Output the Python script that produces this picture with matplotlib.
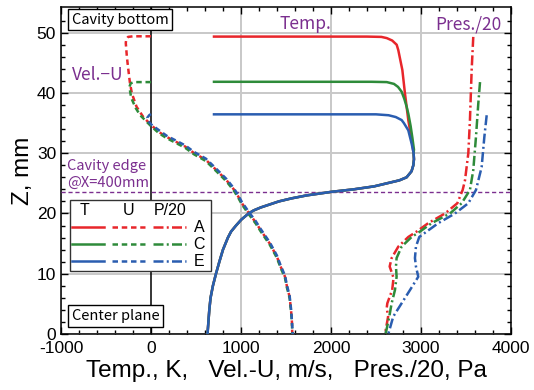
import numpy as np
import matplotlib
matplotlib.use("Agg")
import matplotlib.pyplot as plt
from matplotlib.patches import Rectangle

plt.rcParams['font.family'] = ['Liberation Sans', 'DejaVu Sans']
plt.rcParams['axes.unicode_minus'] = False

# ---- data (value, Z in mm) ----
cases = ['A', 'C', 'E']
colors = {'A': '#e8262b', 'C': '#2e8b3a', 'E': '#2a5db0'}

# temperature, K
t_z_low = [0, 2, 4, 6, 8, 10, 12, 14, 16, 17, 18, 19, 20, 20.5, 21, 21.5, 22,
           22.5, 23, 23.6, 24, 24.5, 25, 25.5, 26, 27, 28, 29, 30]
t_v_low = [628, 638, 648, 662, 688, 722, 760, 800, 855, 890, 945, 1005, 1085,
           1140, 1220, 1320, 1420, 1560, 1730, 2010, 2250, 2480, 2620, 2760,
           2840, 2895, 2915, 2922, 2918]
t_z_up = {
    'A': [32.2, 35.5, 39.9, 43.8, 47.1, 48.0, 48.7, 49.1, 49.3, 49.35, 49.35],
    'C': [30.6, 32.5, 34.5, 36.5, 37.7, 39.0, 40.2, 41.0, 41.5, 41.8, 41.85, 41.85],
    'E': [31.6, 33.8, 35.0, 35.5, 36.0, 36.3, 36.45, 36.45],
}
t_v_up = {
    'A': [2896, 2859, 2822, 2793, 2748, 2730, 2680, 2620, 2560, 2400, 700],
    'C': [2922, 2905, 2885, 2860, 2841, 2815, 2785, 2745, 2700, 2620, 2450, 700],
    'E': [2896, 2859, 2810, 2785, 2720, 2640, 2500, 700],
}

# velocity U, m/s
u_z = {
    'A': [49.4, 49.4, 49.3, 48.9, 48.3, 46.0, 44.3, 41.8, 39.9, 37.7, 36.0, 34.7,
          33.5, 32.7, 31.1, 30.0, 28.9, 27.0, 25.5, 24.0, 22.8, 21.7, 20.0,
          18.5, 17.2, 15.0, 12.8, 11.2, 9.5, 7.8, 6.2, 4.0, 2.0, 0.0],
    'C': [41.8, 41.8, 41.6, 41.0, 39.2, 37.5, 36.3, 34.5, 33.3, 32.5, 30.9,
          29.8, 28.7, 26.8, 25.3, 23.8, 22.6, 21.5, 19.8, 18.3, 17.0, 14.8,
          12.6, 11.0, 9.3, 7.6, 6.0, 3.8, 1.8, 0.0],
    'E': [36.5, 36.3, 35.9, 35.3, 34.8, 33.8, 32.9, 31.3, 30.2, 29.1, 27.2,
          25.7, 24.2, 23.0, 21.9, 20.2, 18.7, 17.4, 15.2, 13.0, 11.4, 9.7,
          8.0, 6.4, 4.2, 2.2, 0.0],
}
u_v = {
    'A': [0, -200, -255, -275, -280, -268, -255, -235, -212, -160, -85, 0,
          90, 174, 380, 480, 610, 740, 840, 920, 970, 1010, 1090, 1165, 1220,
          1320, 1400, 1440, 1489, 1512, 1540, 1556, 1566, 1570],
    'C': [0, -190, -225, -240, -220, -170, -120, 0, 90, 174, 380, 480, 610,
          740, 840, 920, 970, 1010, 1090, 1165, 1220, 1320, 1400, 1440, 1489,
          1512, 1540, 1556, 1566, 1570],
    'E': [0, -20, -40, -30, 0, 90, 174, 380, 480, 610, 740, 840, 920, 970,
          1010, 1090, 1165, 1220, 1320, 1400, 1440, 1489, 1512, 1540, 1556,
          1566, 1575],
}

# pressure / 20, Pa
p_z = {
    'A': [49.3, 43.8, 35.5, 30.0, 25.5, 23.9, 21.7, 20.0, 18.4, 17.0, 16.1,
          14.5, 12.6, 11.2, 10.0, 9.3, 7.3, 5.1, 4.3, 2.9, 0.0],
    'C': [41.8, 38.3, 32.7, 27.2, 23.9, 21.7, 20.0, 18.4, 17.0, 16.1, 14.5,
          12.6, 11.2, 9.5, 7.3, 5.1, 2.9, 0.0],
    'E': [36.3, 32.7, 27.7, 23.9, 21.7, 20.0, 18.4, 17.0, 16.1, 14.5, 12.6,
          11.2, 9.5, 7.3, 5.1, 2.9, 0.0],
}
p_v = {
    'A': [3581, 3563, 3544, 3526, 3489, 3463, 3404, 3267, 3081, 2952, 2859,
          2748, 2674, 2652, 2680, 2695, 2680, 2626, 2619, 2635, 2600],
    'C': [3656, 3637, 3611, 3581, 3544, 3452, 3322, 3119, 2989, 2896, 2785,
          2729, 2722, 2729, 2711, 2674, 2648, 2607],
    'E': [3730, 3704, 3674, 3611, 3526, 3378, 3193, 3063, 2981, 2944, 2933,
          2944, 2970, 2878, 2785, 2692, 2637],
}

edge_z = 23.6
purple = '#7b2f8f'
gothic = ['Noto Sans CJK JP', 'DejaVu Sans']

fig = plt.figure(figsize=(5.34, 3.90), dpi=100)
ax = fig.add_axes([0.1142, 0.1436, 0.8427, 0.8375])

u_style = (0, (2.2, 1.5))
p_style = (0, (4.0, 1.3, 0.8, 1.3))
lw = 1.8

for c in cases:
    tz = np.array(t_z_low + t_z_up[c])
    tv = np.array(t_v_low + t_v_up[c])
    ax.plot(tv, tz, color=colors[c], lw=lw, zorder=4)
    ax.plot(u_v[c], u_z[c], color=colors[c], lw=lw, ls=u_style, zorder=4)
    ax.plot(p_v[c], p_z[c], color=colors[c], lw=lw, ls=p_style, zorder=4)

ax.axvline(0, color='black', lw=1.1, zorder=2)
ax.axhline(edge_z, color=purple, lw=1.0, ls=(0, (3, 2)), zorder=3)

ax.set_xlim(-1000, 4000)
ax.set_ylim(0, 54.2)
ax.set_xticks([-1000, 0, 1000, 2000, 3000, 4000])
ax.set_yticks([0, 10, 20, 30, 40, 50])
ax.set_xticks(np.arange(-1000, 4001, 200), minor=True)
ax.set_yticks(np.arange(0, 54, 2), minor=True)
ax.tick_params(which='both', direction='in', top=True, right=True,
               labelsize=12.5, width=1.0)
ax.tick_params(which='major', length=5)
ax.tick_params(which='minor', length=3)
ax.tick_params(axis='x', pad=5)
ax.grid(True, which='major', color='#c8c8c8', lw=1.4, zorder=1)
ax.xaxis.get_gridlines()[1].set_visible(False)
for s in ax.spines.values():
    s.set_linewidth(1.1)

ax.set_xlabel('Temp., K,   Vel.-U, m/s,   Pres./20, Pa', fontsize=17.5, labelpad=3)
ax.set_ylabel('Z, mm', fontsize=17.5, labelpad=2)

# annotations
ax.text(1711, 51.4, 'Temp.', color=purple, fontsize=12.5, ha='center',
        va='center', family=gothic)
ax.text(3522, 51.4, 'Pres./20', color=purple, fontsize=12.5, ha='center',
        va='center', family=gothic)
ax.text(-589, 43.0, 'Vel.\u2212U', color=purple, fontsize=12.5, ha='center',
        va='center', family=gothic)
ax.text(-930, 26.5, 'Cavity edge\n@X=400mm', color=purple, fontsize=10.5,
        ha='left', va='center', family=gothic, linespacing=1.3)

box = dict(boxstyle='square,pad=0.25', fc='white', ec='black', lw=1.0)
ax.text(0.024, 0.962, 'Cavity bottom', transform=ax.transAxes, fontsize=10.5,
        ha='left', va='center', family=gothic, bbox=box, zorder=6)
ax.text(0.024, 0.055, 'Center plane', transform=ax.transAxes, fontsize=10.5,
        ha='left', va='center', family=gothic, bbox=box, zorder=6)

# hand-built legend
def ax_x(px):
    return (px - 61) / 450.0

def ax_y(py):
    return (334 - py) / 326.7

ax.add_patch(Rectangle((ax_x(70), ax_y(271)), ax_x(211) - ax_x(70),
                       ax_y(200) - ax_y(271), transform=ax.transAxes,
                       fc='white', ec='#333333', lw=1.0, zorder=6))
hy = ax_y(210.7)
for label, px in [('T', 85), ('U', 128.3), ('P/20', 170)]:
    ax.text(ax_x(px), hy, label, transform=ax.transAxes, fontsize=11.5,
            ha='center', va='center', zorder=7)
row_y = [227.3, 244, 261]
for c, py in zip(cases, row_y):
    y = ax_y(py)
    for (x0, x1), st in [((71.7, 104.3), '-'), ((111.7, 145), u_style),
                         ((152.7, 186), p_style)]:
        ax.plot([ax_x(x0), ax_x(x1)], [y, y], transform=ax.transAxes,
                color=colors[c], lw=lw, ls=st, zorder=7, clip_on=False)
    ax.text(ax_x(199.5), y, c, transform=ax.transAxes, fontsize=11.5,
            ha='center', va='center', zorder=7)

fig.savefig('out.png', dpi=100)
